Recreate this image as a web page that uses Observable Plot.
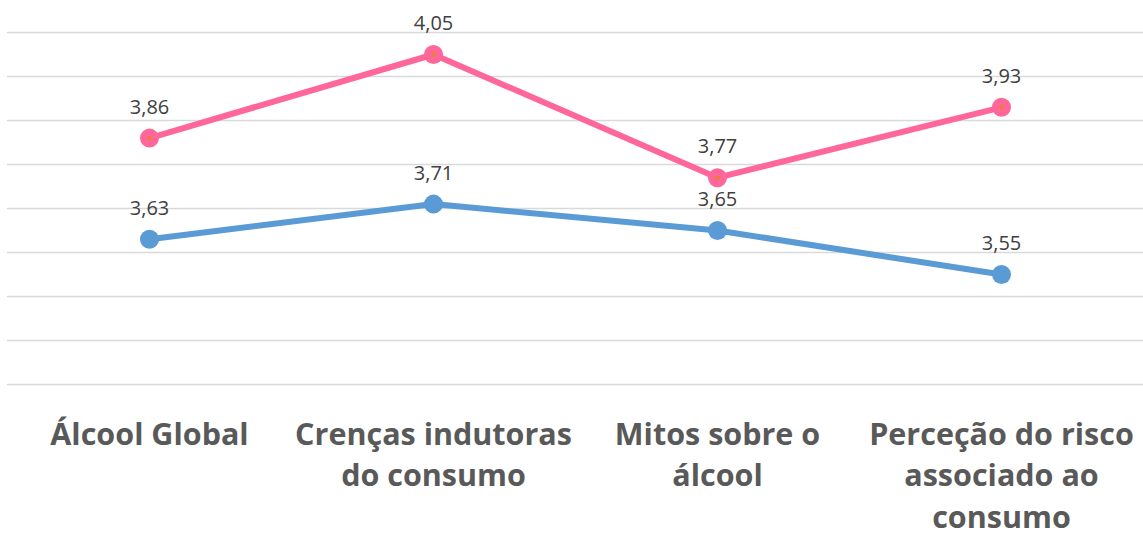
<!DOCTYPE html>
<html>
<head>
<meta charset="utf-8">
<script src="https://cdn.jsdelivr.net/npm/d3@7"></script>
<script src="https://cdn.jsdelivr.net/npm/@observablehq/plot@0.6"></script>
<style>
  html, body { margin: 0; padding: 0; background: #fff; }
  #chart svg { display: block; }
</style>
</head>
<body>
<div id="chart"></div>
<script>
const categories = [
  "Álcool Global",
  "Crenças indutoras\ndo consumo",
  "Mitos sobre o\nálcool",
  "Perceção do risco\nassociado ao\nconsumo"
];
const seriesPink = [3.86, 4.05, 3.77, 3.93];
const seriesBlue = [3.63, 3.71, 3.65, 3.55];
const gridTicks = [3.3, 3.4, 3.5, 3.6, 3.7, 3.8, 3.9, 4.0, 4.1];

const pink = categories.map((c, i) => ({cat: c, v: seriesPink[i]}));
const blue = categories.map((c, i) => ({cat: c, v: seriesBlue[i]}));
const fmt = v => d3.format(".2f")(v).replace(".", ",");

const font = "'Open Sans', 'Noto Sans', sans-serif";

const chart = Plot.plot({
  width: 1143,
  height: 538,
  marginTop: 32,
  marginBottom: 154,
  marginLeft: 7,
  marginRight: 0,
  style: {fontFamily: font, background: "#fff"},
  x: {type: "point", domain: categories, padding: 0.5},
  y: {domain: [3.3, 4.1], axis: null},
  marks: [
    Plot.ruleY(gridTicks, {stroke: "#d9d9d9", strokeWidth: 1.5}),
    Plot.axisX({
      tickSize: 0,
      tickPadding: 31,
      fontSize: 30.5,
      fontWeight: "bold",
      fill: "#595959",
      lineAnchor: "top",
      lineHeight: 1.36,
      label: null
    }),
    Plot.line(blue, {x: "cat", y: "v", stroke: "#5B9BD5", strokeWidth: 6, strokeLinecap: "round", strokeLinejoin: "round"}),
    Plot.line(pink, {x: "cat", y: "v", stroke: "#FF6699", strokeWidth: 6, strokeLinecap: "round", strokeLinejoin: "round"}),
    Plot.dot(blue, {x: "cat", y: "v", r: 9.5, fill: "#5B9BD5", stroke: null}),
    Plot.dot(pink, {x: "cat", y: "v", r: 9.5, fill: "#FF6699", stroke: null}),
    Plot.dot(pink, {x: "cat", y: "v", r: 2.2, fill: "#ED7D31", stroke: null}),
    Plot.text(blue, {x: "cat", y: "v", text: d => fmt(d.v), dy: -31, fontSize: 20, fill: "#404040"}),
    Plot.text(pink, {x: "cat", y: "v", text: d => fmt(d.v), dy: -31, fontSize: 20, fill: "#404040"})
  ]
});
document.getElementById("chart").appendChild(chart);
</script>
</body>
</html>
